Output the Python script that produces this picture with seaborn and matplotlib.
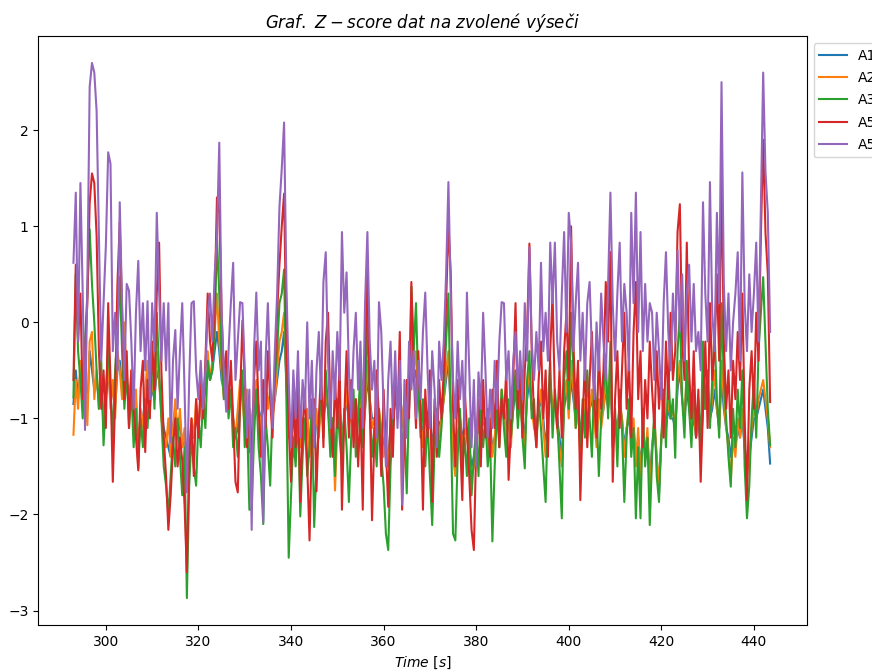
import numpy as np
import pandas as pd
import matplotlib
matplotlib.use("Agg")
import matplotlib.pyplot as plt
import seaborn as sns

series_names = ["A1", "A2", "A3", "A5a", "A5b"]
series_colors = ["#1f77b4", "#ff7f0e", "#2ca02c", "#d62728", "#9467bd"]
t_start = 293.0
t_step = 0.5

a1 = [
    -0.85, -0.5, -0.8, -0.5, -0.7, -0.6, -0.9, -0.3, -0.5, -0.7,
    -0.6, -0.8, -0.7, -1.0, -0.8, -0.5, -0.8, -0.7, -0.9, -0.5,
    -0.4, -0.7, -0.3, -0.6, -0.8, -0.6, -0.9, -0.8, -1.3, -1.0,
    -1.0, -0.8, -0.5, -0.8, -0.7, -0.8, -0.5, -0.6, -0.9, -1.1,
    -1.2, -1.3, -1.4, -1.1, -0.9, -1.2, -1.0, -1.3, -1.2, -1.5,
    -1.3, -1.1, -1.2, -1.0, -1.1, -0.8, -0.9, -0.7, -0.5, -0.6,
    -0.5, -0.3, -0.1, -0.3, -0.6, -0.7, -0.7, -0.8, -0.8, -1.0,
    -1.2, -1.1, -0.8, -0.7, -1.0, -0.9, -1.35, -1.1, -0.9, -0.7,
    -0.9, -1.0, -0.9, -0.7, -0.8, -0.78, -0.9, -0.8, -0.6, -0.4,
    -0.3, -0.1, -0.6, -1.1, -1.1, -1.3, -1.1, -0.9, -1.2, -1.1,
    -1.1, -1.0, -1.3, -1.2, -1.3, -1.0, -1.1, -0.9, -1.0, -0.8,
    -0.9, -1.1, -1.0, -1.4, -1.1, -0.9, -1.2, -1.0, -0.8, -1.0,
    -1.0, -1.1, -0.9, -1.0, -0.8, -1.2, -0.9, -0.6, -0.8, -1.0,
    -1.0, -1.2, -1.0, -1.1, -1.3, -1.3, -1.4, -1.1, -1.0, -0.8,
    -0.9, -0.7, -1.0, -0.9, -1.1, -0.9, -0.3, -0.6, -0.5, -0.8,
    -1.0, -1.2, -0.9, -1.1, -0.9, -1.3, -1.1, -0.9, -1.1, -1.0,
    -0.8, -0.6, -0.4, -0.9, -1.3, -1.4, -1.2, -1.0, -1.2, -1.1,
    -1.2, -1.3, -1.5, -1.4, -1.2, -1.1, -1.2, -1.0, -1.1, -1.2,
    -1.1, -1.3, -1.2, -1.0, -1.1, -0.8, -0.9, -1.1, -1.0, -1.2,
    -0.9, -0.7, -1.0, -0.8, -1.0, -1.2, -0.8, -0.6, -0.9, -1.0,
    -1.1, -0.9, -0.8, -1.0, -1.3, -1.0, -0.7, -0.9, -0.8, -1.0,
    -1.2, -1.4, -0.9, -0.7, -0.9, -0.6, -0.8, -1.0, -0.9, -1.3,
    -1.1, -0.9, -1.1, -0.9, -0.8, -1.0, -1.2, -0.9, -1.0, -0.9,
    -0.7, -0.9, -0.6, -1.2, -1.0, -1.1, -0.9, -1.0, -1.3, -1.1,
    -1.0, -1.2, -1.1, -1.4, -1.2, -1.5, -1.2, -1.3, -1.2, -1.6,
    -1.3, -1.1, -1.4, -1.77, -1.2, -1.0, -1.1, -0.9, -1.0, -1.0,
    -1.1, -0.7, -0.5, -0.8, -1.0, -0.7, -0.9, -1.1, -1.0, -1.2,
    -1.0, -1.33, -0.9, -0.9, -0.8, -1.0, -0.9, -0.7, -0.9, -1.1,
    -0.6, -0.9, -1.1, -1.2, -1.4, -1.2, -1.3, -1.1, -1.2, -1.0,
    -1.3, -1.5, -1.4, -1.2, -1.0, -1.0, -0.9, -0.8, -0.7, -0.9,
    -1.1, -1.47,
]

a2 = [
    -1.17, -0.6, -0.9, -0.4, -0.8, -0.5, -1.07, -0.2, -0.1, -0.8,
    -0.5, -0.9, -0.6, -1.1, -0.7, -0.4, -0.9, -0.6, -1.0, -0.3,
    -0.5, -0.8, 0.0, -0.6, -0.9, -0.5, -1.1, -0.7, -1.42, -0.9,
    -1.1, -0.7, -0.4, -0.9, -0.6, -0.8, -0.3, -0.6, -1.0, -1.2,
    -1.3, -1.0, -1.4, -1.1, -0.8, -1.2, -0.9, -1.3, -1.1, -1.6,
    -1.4, -1.0, -1.2, -0.8, -1.14, -0.7, -0.9, -0.5, -0.3, -0.6,
    -0.4, -0.1, 0.3, -0.2, -0.5, -0.8, -0.6, -0.9, -0.7, -1.0,
    -1.2, -0.9, -0.6, -0.8, -1.1, -0.7, -1.3, -1.0, -0.8, -0.6,
    -0.9, -1.1, -0.8, -0.6, -0.9, -0.7, -1.0, -0.8, -0.5, -0.2,
    -0.1, 0.1, -0.6, -1.2, -1.0, -1.4, -1.1, -0.8, -1.3, -1.0,
    -1.2, -0.9, -1.4, -1.1, -1.3, -0.9, -1.2, -0.8, -1.0, -0.7,
    -0.9, -1.2, -1.0, -1.75, -1.1, -0.8, -1.3, -1.0, -0.7, -1.1,
    -0.9, -1.2, -0.8, -1.0, -0.7, -1.3, -0.9, -0.4, -0.8, -1.1,
    -1.0, -1.3, -0.9, -1.1, -1.4, -1.2, -1.5, -1.1, -0.9, -0.7,
    -0.9, -0.6, -1.1, -0.8, -1.2, -0.9, 0.0, -0.5, -0.3, -0.8,
    -1.0, -1.3, -0.9, -1.2, -0.8, -1.5, -1.1, -0.9, -1.2, -1.0,
    -0.8, -0.5, -0.3, -0.9, -1.4, -1.6, -1.2, -1.0, -1.3, -1.1,
    -1.2, -1.4, -1.6, -1.5, -1.2, -1.0, -1.3, -0.9, -1.1, -1.3,
    -1.0, -1.4, -1.2, -0.9, -1.1, -0.7, -0.9, -1.2, -1.0, -1.3,
    -0.8, -0.6, -1.0, -0.8, -1.1, -1.3, -0.7, -0.5, -0.9, -1.1,
    -1.2, -0.9, -0.7, -1.1, -1.4, -1.0, -0.6, -0.9, -0.8, -1.1,
    -1.3, -1.5, -0.8, -0.6, -1.0, -0.4, -0.7, -1.1, -0.9, -1.4,
    -1.1, -0.8, -1.2, -0.9, -0.7, -1.0, -1.3, -0.8, -1.1, -0.9,
    -0.6, -0.9, -0.4, -1.3, -1.0, -1.2, -0.8, -1.0, -1.4, -1.1,
    -0.9, -1.2, -1.0, -1.5, -1.1, -1.6, -1.2, -1.4, -1.1, -1.8,
    -1.3, -1.0, -1.4, -1.7, -1.2, -0.9, -1.1, -0.8, -1.0, -0.9,
    -1.1, -0.6, -0.4, -0.8, -1.0, -0.5, -0.8, -1.1, -0.9, -1.2,
    -0.9, -1.3, -0.7, -0.9, -0.6, -1.0, -0.8, -0.5, -0.9, -1.1,
    -0.4, -0.8, -1.1, -1.3, -1.66, -1.2, -1.4, -1.0, -1.2, -0.9,
    -1.3, -1.6, -1.4, -1.1, -0.9, -1.0, -0.8, -0.7, -0.6, -0.8,
    -1.0, -1.3,
]

a3 = [
    -0.78, 0.5, -0.3, -0.6, -1.0, -0.2, 0.3, 0.97, 0.4, 0.0,
    -0.5, -0.9, -0.4, -1.28, -0.8, -0.2, -0.7, -1.2, -0.5, -0.1,
    0.47, -0.3, -0.9, -0.5, -1.1, -0.7, -1.3, -0.9, -1.52, -1.0,
    -1.3, -0.8, -1.1, -0.6, -0.3, -0.9, 0.1, -0.5, -1.0, -1.5,
    -1.7, -2.0, -1.6, -1.2, -1.5, -1.0, -1.4, -1.8, -1.3, -2.87,
    -1.7, -1.2, -1.5, -1.7, -1.0, -1.3, -0.8, -1.1, -0.4, -0.6,
    -0.5, -0.1, 0.88, 0.3, -0.4, -0.8, -0.5, -1.0, -0.7, -1.3,
    -1.1, -1.4, -0.9, -0.5, -1.3, -1.0, -1.95, -1.95, -1.2, -0.7,
    -1.3, -1.6, -2.1, -1.0, -1.3, -1.7, -0.9, -0.6, -0.3, 0.2,
    0.3, 0.55, -0.8, -2.45, -1.8, -1.2, -1.5, -0.9, -2.02, -1.4,
    -1.0, -1.6, -1.3, -0.8, -2.13, -1.5, -1.1, -0.7, -1.2, -0.5,
    -0.9, -1.4, -1.0, -1.6, -0.8, -1.2, -1.5, -0.9, -1.3, -1.87,
    -1.2, -0.7, -1.4, -1.0, -0.5, -1.3, -0.8, 0.1, -0.9, -1.4,
    -1.1, -1.5, -0.9, -1.4, -1.7, -2.2, -2.37, -1.5, -1.0, -0.6,
    -1.0, -0.6, -1.3, -1.1, -1.78, -0.8, 0.37, -0.3, 0.2, -0.7,
    -1.2, -0.8, -1.5, -1.0, -1.6, -2.11, -1.3, -0.9, -1.4, -1.1,
    -0.7, -0.2, 0.3, -1.0, -2.2, -2.27, -1.4, -0.9, -1.5, -1.2,
    -1.6, -1.0, -1.8, -1.4, -1.1, -1.6, -0.8, -1.3, -1.0, -1.5,
    -1.2, -2.28, -1.5, -0.9, -1.3, -0.7, -1.1, -1.4, -0.8, -1.2,
    -0.9, -0.5, -1.1, -0.7, -1.2, -1.52, -0.6, -0.3, -1.0, -0.8,
    -1.3, -0.8, -1.1, -1.5, -1.87, -0.9, -0.4, -1.2, -0.7, -1.0,
    -1.5, -2.04, -0.6, -0.3, -0.9, 0.1, -0.5, -1.1, -0.7, -1.3,
    -0.8, -1.2, -0.5, -1.0, -1.4, -0.6, -0.9, -1.6, -1.0, -0.7,
    -0.4, -1.0, -0.2, -1.3, -0.9, -1.5, -0.7, -1.1, -1.87, -1.2,
    -0.8, -1.4, -1.1, -2.04, -1.3, -2.04, -0.9, -1.5, -1.2, -2.11,
    -1.4, -0.9, -1.6, -1.87, -1.2, -0.7, -1.3, -0.5, -1.0, -0.8,
    -1.41, -0.3, 0.1, -0.8, -1.2, -0.4, -0.9, -1.3, -0.7, -1.1,
    -0.8, -1.3, -0.2, -0.9, -0.5, -1.1, -0.6, -0.1, -0.8, -1.2,
    0.2, -0.6, -1.0, -1.4, -1.71, -0.9, -1.3, -0.7, -1.1, -0.5,
    -1.5, -2.04, -1.7, -1.0, -0.6, -1.2, -0.3, 0.1, 0.47, -0.2,
    -0.9, -1.28,
]

a5a = [
    -0.6, 0.6, -0.2, 0.3, -0.8, -0.3, 0.2, 1.24, 1.55, 1.45,
    0.9, -0.3, -0.9, -0.5, -1.1, 0.2, -0.6, -1.66, -0.8, 0.4,
    1.04, 0.1, -0.8, -0.3, -1.1, -0.5, -0.9, -1.2, -1.54, -0.7,
    -0.4, -1.35, -0.6, -1.0, -0.2, -0.7, 0.3, 0.83, -0.5, -1.2,
    -1.6, -2.16, -1.8, -1.3, -1.0, -1.5, -1.2, -1.44, -1.9, -2.6,
    -1.4, -1.0, -1.6, -0.8, -1.2, -0.6, -1.0, -0.4, 0.3, -0.2,
    -0.4, 0.2, 1.3, 1.14, 0.1, -0.6, -0.3, -0.9, -0.4, -1.0,
    -1.66, -1.77, -0.8, 0.02, -0.6, -1.3, -0.9, -1.5, -0.6, -0.2,
    -0.9, -1.4, -0.6, -1.1, -0.3, -0.8, -1.2, -0.5, 0.1, 0.6,
    1.0, 1.34, -0.2, -1.1, -1.66, -0.8, -1.3, -0.6, -1.87, -1.1,
    -0.7, -1.5, -2.27, -1.2, -0.8, -1.76, -1.0, -0.5, -1.3, -0.2,
    0.1, -0.9, -1.4, -0.6, -1.1, -0.4, -1.95, -1.0, -0.3, -1.2,
    -0.6, -1.3, -0.8, -1.5, -0.9, -1.95, -0.4, 0.62, -0.8, -2.06,
    -1.2, -0.5, -1.0, -1.6, -0.7, -1.3, -1.92, -0.9, -1.4, -0.6,
    -1.0, -0.1, -1.95, -1.2, -0.6, -1.0, 0.42, -0.5, -1.1, -0.3,
    -0.9, -1.95, -0.7, -1.2, -0.5, -1.87, -0.8, -1.4, -0.6, -1.0,
    -0.5, 0.2, 1.0, 0.52, -0.9, -1.5, -0.6, -1.2, -1.85, -0.7,
    -1.1, -1.6, -2.16, -2.37, -1.3, -0.8, -1.5, -0.6, -1.2, -0.9,
    -1.4, -0.7, -1.1, -0.4, -1.3, -0.8, -1.0, -0.5, -1.64, -1.1,
    -0.6, 0.2, -0.9, -0.4, -1.2, -0.5, -0.1, 0.82, -0.3, -1.0,
    -1.3, -0.6, -0.2, -1.0, -0.5, -1.4, -0.3, 0.3, -0.8, -1.1,
    -0.5, -1.2, -0.3, 0.1, -0.6, 1.0, -0.2, -0.9, -0.4, -1.85,
    -1.0, -0.4, -1.3, -0.6, -0.1, -0.8, -1.2, -0.3, -0.9, -0.5,
    0.42, -0.2, 0.73, -1.66, -0.8, -0.3, -1.1, -0.5, 0.1, -0.9,
    -0.4, -1.2, -0.1, 0.42, -0.8, -0.3, -1.3, -0.6, -1.0, -0.2,
    -0.7, -1.1, -0.3, -0.9, -0.5, -1.2, -0.2, -0.8, 0.1, -0.6,
    -0.3, 0.94, 1.23, -0.2, -0.6, 0.83, -0.5, -1.0, -0.3, -1.2,
    -0.7, -1.66, -0.9, -0.2, -1.1, 0.2, -0.6, -0.3, 0.5, -0.4,
    1.55, -0.2, -0.9, -0.5, -1.2, -0.4, -0.8, -0.1, -0.6, 0.3,
    -1.0, -1.85, -0.7, -0.3, -0.9, 0.1, -0.4, 0.9, 1.9, 0.93,
    0.5, -0.83,
]

a5b = [
    0.62, 1.35, -0.2, 1.45, 0.3, -1.12, 0.4, 2.45, 2.7, 2.6,
    2.2, 0.9, -0.4, 0.2, 0.8, 1.77, 1.65, -0.3, 0.1, -0.5,
    1.25, 0.2, -0.6, 0.4, 0.33, -0.2, -0.9, 0.1, 0.64, -0.3,
    0.2, -0.5, 0.22, -0.8, 0.2, -0.3, 1.14, 0.33, -0.4, 0.2,
    -0.5, 0.2, -1.25, -0.4, -0.08, -0.9, -0.3, 0.2, -0.7, -1.77,
    -0.6, 0.2, 0.22, -0.5, -0.8, -0.4, -0.9, -0.5, 0.1, 0.3,
    -0.2, 0.5, 0.9, 1.87, 0.1, -0.5, -0.93, -0.3, 0.2, 0.62,
    -0.6, -0.2, 0.21, 0.2, -0.5, -1.2, -0.7, -2.16, -0.3, 0.31,
    -0.5, -0.2, -2.08, -0.4, 0.2, -0.6, -1.1, -0.3, 0.3, 1.2,
    1.6, 2.08, 0.4, -0.6, -1.3, -0.5, -1.0, -0.3, -1.2, -0.6,
    -0.9, 0.0, -1.0, -0.4, -1.3, -0.5, -0.1, -0.8, 0.42, 0.73,
    -0.4, -1.1, -0.3, -0.8, -0.1, -0.6, 0.94, 0.1, 0.52, -0.5,
    -1.0, -0.3, 0.1, -0.7, -0.2, -1.1, 0.21, 0.94, -0.2, -0.7,
    -0.4, -1.2, 0.21, -0.1, -0.9, -1.5, -0.6, -0.2, -1.0, -0.3,
    -1.1, -0.4, -1.9, -0.6, -1.2, -0.2, -0.7, -0.3, -1.0, -0.4,
    -0.8, -0.1, 0.31, -0.5, -1.1, -0.3, -0.7, -1.3, -0.2, -0.6,
    -0.2, 0.5, 1.46, 0.3, -0.6, -1.0, -0.2, -0.8, -0.4, -1.1,
    0.31, -0.5, -1.3, -0.6, -1.5, -0.52, -0.9, 0.1, -0.5, -1.2,
    -0.7, -1.1, -0.4, -0.9, -0.2, 0.21, 0.2, -0.6, -0.3, -1.0,
    -0.4, -0.1, -0.7, -0.3, -0.8, 0.2, -0.4, 0.78, -0.2, -0.6,
    -0.1, -0.5, 0.62, -0.3, 0.1, -0.4, 0.83, 0.2, 0.83, -0.2,
    -0.5, 0.3, 0.94, -0.1, 1.14, 0.83, -0.3, 0.2, 0.62, -0.4,
    0.1, -0.6, 0.2, 0.42, -0.3, -0.8, 0.0, -0.5, 0.3, -0.2,
    -0.6, 0.4, 1.35, 0.2, -0.4, 0.3, 0.83, -0.2, 0.4, 0.1,
    -0.5, 1.14, 0.2, 1.35, -0.1, 0.94, -0.3, 0.4, -0.2, 0.2,
    0.1, -0.6, 0.1, -0.3, -0.8, 0.2, 0.73, -0.1, -0.5, 0.3,
    -0.2, 0.75, -0.1, 0.5, -0.4, 0.3, 0.6, -0.2, 0.4, -0.3,
    -0.1, -0.5, 1.25, 0.3, -0.2, 1.46, 0.1, -0.3, 1.14, 0.2,
    2.5, 0.4, -0.3, 0.3, -0.5, 0.0, 0.3, 0.73, -0.4, 1.56,
    0.2, -0.3, 0.5, -0.1, 0.3, 0.83, -0.2, 1.2, 2.6, 1.56,
    1.14, -0.1,
]

all_series = [a1, a2, a3, a5a, a5b]

fig = plt.figure(figsize=(8.72, 6.70), dpi=100)
ax = fig.add_axes([0.0439, 0.0672, 0.8812, 0.879])

for name, color, vals in zip(series_names, series_colors, all_series):
    t = t_start + t_step * np.arange(len(vals))
    df = pd.DataFrame({"Time": t, "z": vals})
    sns.lineplot(data=df, x="Time", y="z", color=color, label=name,
                 linewidth=1.5, ax=ax, estimator=None, sort=False)

ax.set_xlim(285.4, 451.4)
ax.set_ylim(-3.15, 2.98)
ax.set_xticks([300, 320, 340, 360, 380, 400, 420, 440])
ax.set_yticks([-3, -2, -1, 0, 1, 2])
ax.set_title(r"$Graf.\ Z-score\ dat\ na\ zvolené\ výseči$", fontsize=12)
ax.set_xlabel(r"$Time\ [s]$")
ax.set_ylabel("")
ax.legend(loc="upper left", bbox_to_anchor=(1.0, 1.0), labelspacing=0.6)

fig.savefig("out.png", dpi=100)
